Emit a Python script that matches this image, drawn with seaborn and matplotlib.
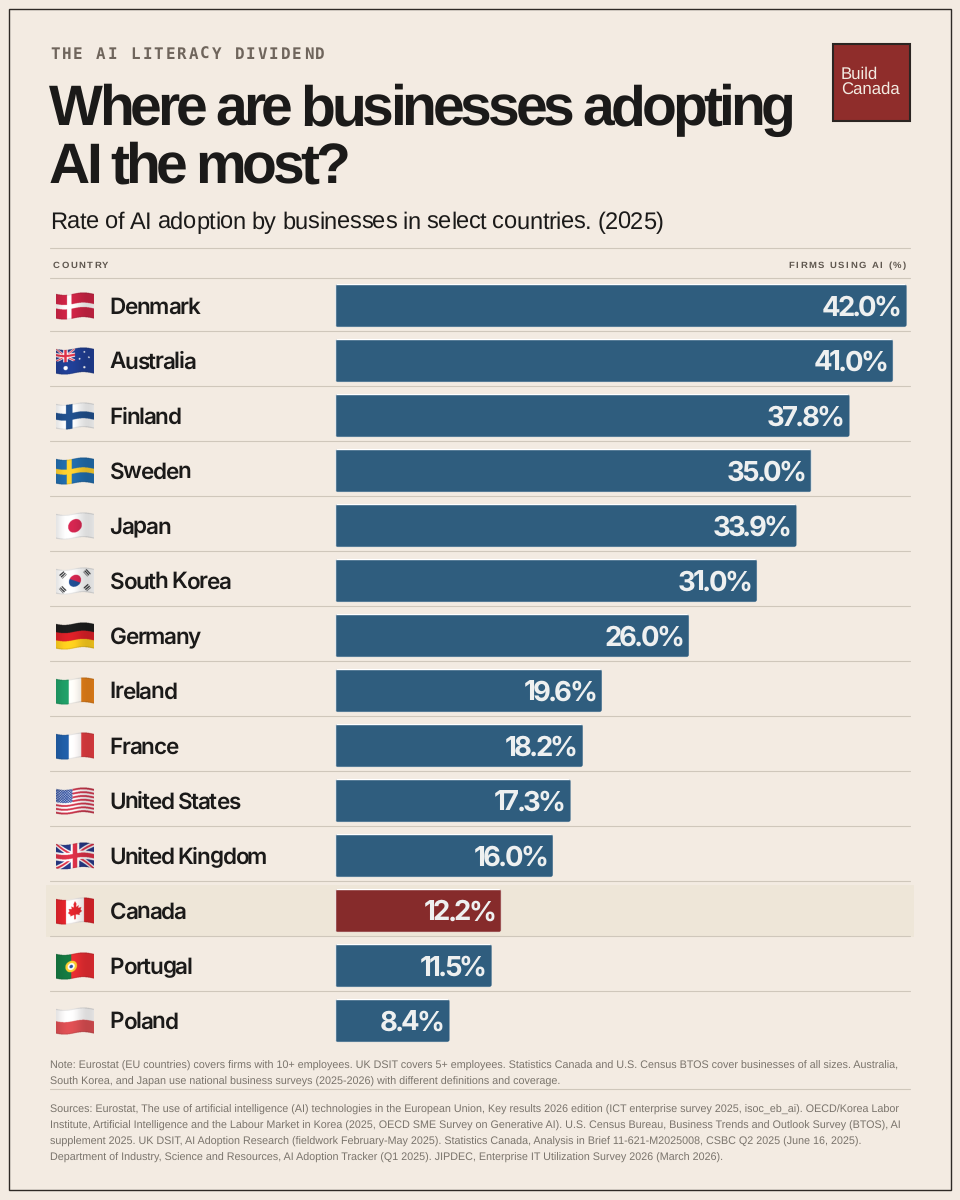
# -*- coding: utf-8 -*-
import matplotlib
matplotlib.use('Agg')
import matplotlib.pyplot as plt
import matplotlib.text as mtext
import matplotlib.transforms as mtransforms
from matplotlib import font_manager
from matplotlib.ft2font import LoadFlags
from matplotlib.patches import FancyBboxPatch, Rectangle
from matplotlib.path import Path
import numpy as np
import pandas as pd
import seaborn as sns

countries = ['Denmark', 'Australia', 'Finland', 'Sweden', 'Japan', 'South Korea', 'Germany',
             'Ireland', 'France', 'United States', 'United Kingdom', 'Canada', 'Portugal', 'Poland']
adoption = [42.0, 41.0, 37.8, 35.0, 33.9, 31.0, 26.0, 19.6, 18.2, 17.3, 16.0, 12.2, 11.5, 8.4]
highlight = 'Canada'

eyebrow = 'THE AI LITERACY DIVIDEND'
title_lines = ['Where are businesses adopting', 'AI the most?']
subtitle = 'Rate of AI adoption by businesses in select countries. (2025)'
note_lines = [
    'Note: Eurostat (EU countries) covers firms with 10+ employees. UK DSIT covers 5+ employees. '
    'Statistics Canada and U.S. Census BTOS cover businesses of all sizes. Australia,',
    'South Korea, and Japan use national business surveys (2025-2026) with different definitions and coverage.',
]
source_lines = [
    'Sources: Eurostat, The use of artificial intelligence (AI) technologies in the European Union, '
    'Key results 2026 edition (ICT enterprise survey 2025, isoc_eb_ai). OECD/Korea Labor',
    'Institute, Artificial Intelligence and the Labour Market in Korea (2025, OECD SME Survey on Generative AI). '
    'U.S. Census Bureau, Business Trends and Outlook Survey (BTOS), AI',
    'supplement 2025. UK DSIT, AI Adoption Research (fieldwork February-May 2025). '
    'Statistics Canada, Analysis in Brief 11-621-M2025008, CSBC Q2 2025 (June 16, 2025).',
    'Department of Industry, Science and Resources, AI Adoption Tracker (Q1 2025). '
    'JIPDEC, Enterprise IT Utilization Survey 2026 (March 2026).',
]

BG = '#F3EBE2'
INK = '#1B1A19'
BLUE = '#2F5D7E'
RED = '#862B2B'
RULE = '#CFC7BB'
NOTE = '#7A746C'
HEADER = '#5F574F'

sns.set_theme(style='white')
plt.rcParams['font.family'] = ['Liberation Sans', 'DejaVu Sans']
plt.rcParams['text.hinting'] = 'no_hinting'


def pts(px):
    return px * 0.72


class TrackedText(mtext.Text):
    """Text whose letters sit closer together or further apart (tracking in pixels)."""

    def __init__(self, *args, tracking=0.0, **kwargs):
        super().__init__(*args, **kwargs)
        self.tracking = tracking

    def _chars(self):
        prop = self.get_fontproperties()
        font = font_manager.get_font(font_manager.findfont(prop), hinting_factor=1)
        font.set_size(prop.get_size_in_points(), self.get_figure().dpi)
        x, out = 0.0, []
        for ch in self.get_text():
            glyph = font.load_char(ord(ch), flags=LoadFlags.NO_HINTING)
            out.append((ch, x))
            x += glyph.linearHoriAdvance / 65536 + self.tracking
        return out, x - self.tracking

    def _origin(self):
        chars, width = self._chars()
        x, y = self.get_transform().transform(self.get_position())
        if self.get_ha() == 'right':
            x -= width
        return chars, width, x, y

    def get_window_extent(self, renderer=None, dpi=None):
        _, width, x, y = self._origin()
        size = self.get_fontproperties().get_size_in_points() / 0.72
        return mtransforms.Bbox.from_extents(x, y - 0.2 * size, x + width, y + 0.75 * size)

    def draw(self, renderer):
        if not self.get_visible():
            return
        chars, _, x, y = self._origin()
        gc = renderer.new_gc()
        gc.set_foreground(self.get_color())
        gc.set_antialiased(True)
        for ch, dx in chars:
            if ch != ' ':
                renderer.draw_text(gc, x + dx, renderer.height - y, ch, self.get_fontproperties(), 0, ismath=False)
        gc.restore()


def make_flag(name, w=152, h=104):
    """Little waving flag as an RGBA array, painted with masks."""
    vv, uu = np.mgrid[0:h, 0:w]
    u = (uu + 0.5) / w
    v_out = (vv + 0.5) / h
    wave = 0.05 * np.cos(2 * np.pi * (u - 0.72))
    v = (v_out - 0.5) / 0.88 + 0.5 + wave
    x = u * 1.5
    img = np.ones((h, w, 3))

    def paint(mask, col):
        img[mask] = matplotlib.colors.to_rgb(col)

    def disc(cx, cy, r):
        return (x - cx) ** 2 + (v - cy) ** 2 < r ** 2

    def union_jack(scale_x, scale_y):
        a, b = x / scale_x, v / scale_y
        inside = (a < 1.5) & (b < 1)
        paint(inside, '#24357F')
        d1 = np.abs(a / 1.5 - b)
        d2 = np.abs(a / 1.5 + b - 1)
        paint(inside & ((d1 < 0.11) | (d2 < 0.11)), '#F2F2F2')
        paint(inside & ((d1 < 0.045) | (d2 < 0.045)), '#D22F45')
        paint(inside & ((np.abs(a - 0.75) < 0.17) | (np.abs(b - 0.5) < 0.17)), '#F2F2F2')
        paint(inside & ((np.abs(a - 0.75) < 0.09) | (np.abs(b - 0.5) < 0.09)), '#D22F45')

    if name == 'Denmark':
        paint(v > -1, '#C42342')
        paint((np.abs(x - 0.52) < 0.09) | (np.abs(v - 0.5) < 0.09), '#F1EDEC')
    elif name == 'Australia':
        paint(v > -1, '#1F3C8E')
        union_jack(0.5, 0.5)
        paint(disc(0.38, 0.74, 0.085), '#F5F5F5')
        for cx, cy, r in [(1.12, 0.18, 0.035), (1.12, 0.8, 0.045), (0.93, 0.45, 0.035), (1.3, 0.38, 0.035)]:
            paint(disc(cx, cy, r), '#F5F5F5')
    elif name == 'Finland':
        paint(v > -1, '#EFEFEF')
        paint((np.abs(x - 0.52) < 0.13) | (np.abs(v - 0.5) < 0.14), '#1F4C86')
    elif name == 'Sweden':
        paint(v > -1, '#1F68A6')
        paint((np.abs(x - 0.52) < 0.1) | (np.abs(v - 0.5) < 0.1), '#F0C52C')
    elif name == 'Japan':
        paint(v > -1, '#EFEFEF')
        paint(disc(0.75, 0.5, 0.27), '#C9244C')
    elif name == 'South Korea':
        paint(v > -1, '#EFEFEF')
        paint(disc(0.75, 0.5, 0.24), '#C9244C')
        paint(disc(0.75, 0.5, 0.24) & (v - 0.5 > 0.55 * (x - 0.75)), '#1F4A8C')
        for cx, cy, s in [(0.27, 0.2, 1), (1.23, 0.8, 1), (1.23, 0.2, -1), (0.27, 0.8, -1)]:
            p = (x - cx) * s + (v - cy)
            q = (x - cx) - s * (v - cy)
            paint((np.abs(p) < 0.14) & (np.abs(q) < 0.17) & (np.sin(p * 55) > -0.25), '#26282B')
    elif name == 'Germany':
        paint(v > -1, '#1C1C1C')
        paint(v > 1 / 3, '#D11F26')
        paint(v > 2 / 3, '#F2C51D')
    elif name == 'Ireland':
        paint(x >= 0, '#1E9762')
        paint(u > 1 / 3, '#F2EFEA')
        paint(u > 2 / 3, '#DF7D18')
    elif name == 'France':
        paint(x >= 0, '#1F5AA0')
        paint(u > 1 / 3, '#F2EFEF')
        paint(u > 2 / 3, '#DB3B3F')
    elif name == 'United States':
        stripe = np.floor(np.clip(v, 0, 0.999) * 13).astype(int) % 2 == 0
        paint(v > -1, '#F3EFEF')
        paint(stripe, '#C8344A')
        canton = (x < 0.65) & (v < 7 / 13)
        paint(canton, '#2F4C96')
        paint(canton & (np.sin(x * 62) * np.sin(v * 62) > 0.35), '#E6E8F2')
    elif name == 'United Kingdom':
        union_jack(1, 1)
    elif name == 'Canada':
        paint(x >= 0, '#F3EFEE')
        paint((u < 0.26) | (u > 0.74), '#D8232A')
        leaf_x = [0, .05, .04, .13, .11, .22, .19, .24, .15, .17, .03, .03, -.03, -.03, -.17, -.15, -.24, -.19,
                  -.22, -.11, -.13, -.04, -.05]
        leaf_y = [-.34, -.24, -.12, -.18, -.08, -.1, -.01, .04, .12, .17, .14, .3, .3, .14, .17, .12, .04, -.01,
                  -.1, -.08, -.18, -.12, -.24]
        leaf = Path(np.column_stack([np.array(leaf_x) * 1.15 + 0.75, np.array(leaf_y) * 1.15 + 0.5]))
        inside = leaf.contains_points(np.column_stack([x.ravel(), v.ravel()])).reshape(x.shape)
        paint(inside, '#D8232A')
    elif name == 'Portugal':
        paint(x >= 0, '#DE2B30')
        paint(u < 0.4, '#14733E')
        paint(disc(0.6, 0.5, 0.23), '#EFC22E')
        paint(disc(0.6, 0.5, 0.14), '#F2F0EC')
        paint(disc(0.6, 0.5, 0.07), '#2A4C9A')
    elif name == 'Poland':
        paint(v > -1, '#EFEEEE')
        paint(v > 0.5, '#D24B4F')

    shade = 1 + 0.08 * np.sin(2 * np.pi * (u - 0.1)) - 0.12 * (np.abs(v - 0.5) > 0.46)
    rgba = np.dstack([np.clip(img * shade[..., None], 0, 1), ((v >= 0) & (v <= 1)).astype(float)])
    return rgba


data = pd.DataFrame({'country': countries, 'adoption': adoption})
bar_colors = {c: (RED if c == highlight else BLUE) for c in countries}

fig = plt.figure(figsize=(9.6, 12), dpi=100, facecolor=BG)

# page layer in pixel coordinates for rules, frame and header
page = fig.add_axes([0, 0, 1, 1], zorder=0)
page.set_axis_off()

# bar layer: x 336..907 px, row centres 306..1021 px
ax = fig.add_axes([335.3 / 960, 1 - 1048 / 1200, 571.4 / 960, 770 / 1200], zorder=2)
sns.barplot(data=data, y='country', x='adoption', hue='country', palette=bar_colors, legend=False,
            orient='h', width=0.785, saturation=1, ax=ax)
ax.set_xlim(0, 42)
ax.set_ylim(13.5, -0.5)
ax.set_axis_off()
ax.patch.set_alpha(0)

# rounded corners on the bars
for bar in ax.patches:
    round_box = FancyBboxPatch((bar.get_x(), bar.get_y()), bar.get_width(), bar.get_height(),
                               boxstyle='round,pad=0,rounding_size=0.2', mutation_aspect=13.6 / 55,
                               transform=ax.transData)
    bar.set_clip_path(round_box)

page.add_patch(Rectangle((9.3, 9.3), 941.4, 1180.4, facecolor='none', edgecolor='#2E2A26', lw=1.0))

# header
page.add_artist(TrackedText(50, 59, eyebrow, tracking=1.9, color='#6F655C', family='DejaVu Sans Mono',
                            weight='bold', fontsize=pts(15.9), transform=page.transData))
for line, base in zip(title_lines, [125, 183]):
    page.add_artist(TrackedText(49, base, line, tracking=-4.0, color=INK, family='Liberation Sans',
                                weight='bold', fontsize=pts(57), transform=page.transData))
page.add_artist(TrackedText(50, 229, subtitle, tracking=-0.53, color=INK, family='Liberation Sans',
                            fontsize=pts(23.6), transform=page.transData))

# logo
page.add_patch(Rectangle((833, 44), 76.5, 76.5, facecolor='#8F2D2B', edgecolor='#2B2522', lw=1.5))
page.text(841, 82, 'Build\nCanada', color='#F3EBE2', family='Liberation Sans', fontsize=pts(16.7),
          va='center', ha='left', linespacing=0.93)

# table head and rules
for y_rule in [248, 278]:
    page.plot([50, 910], [y_rule, y_rule], color=RULE, lw=0.8)
page.add_artist(TrackedText(53, 268, 'COUNTRY', tracking=1.8, color=HEADER, family='Liberation Sans',
                            weight='bold', fontsize=pts(9.5), transform=page.transData))
page.add_artist(TrackedText(906, 268, 'FIRMS USING AI (%)', tracking=1.8, color=HEADER, ha='right',
                            family='Liberation Sans', weight='bold', fontsize=pts(9.5), transform=page.transData))

row_y = mtransforms.blended_transform_factory(page.transData, ax.transData)
for i, (name, value) in enumerate(zip(countries, adoption)):
    if name == highlight:
        page.add_patch(Rectangle((46, 306 + 55 * i - 26), 868, 51.5, facecolor='#EEE6D8', edgecolor='none'))
    if i < len(countries) - 1:
        page.plot([50, 910], [331 + 55 * i] * 2, color=RULE, lw=0.8)
    page.imshow(make_flag(name), extent=(56, 94, 306 + 55 * i + 14, 306 + 55 * i - 14), aspect='auto', zorder=3,
                interpolation='antialiased')
    name_tf = mtransforms.offset_copy(row_y, fig=fig, y=-pts(8), units='points')
    page.add_artist(TrackedText(109.5, i, name, tracking=-1.3, color=INK, family='Inter', weight=600,
                                fontsize=pts(22.5), transform=name_tf))
    value_tf = mtransforms.offset_copy(ax.transData, fig=fig, x=-pts(5), y=-pts(10), units='points')
    ax.add_artist(TrackedText(value, i, f'{value:.1f}%', tracking=-2.8, color='#EEF0F0', ha='right',
                              family='Inter', weight=700, fontsize=pts(27.5), transform=value_tf))

# footnotes
for line, base in zip(note_lines, [1069, 1085]):
    page.text(50, base, line, color=NOTE, fontsize=pts(10.8), family='Liberation Sans', va='baseline')
page.plot([50, 910], [1089, 1089], color=RULE, lw=0.8)
for line, base in zip(source_lines, [1112.5, 1128.5, 1144.5, 1160.5]):
    page.text(50, base, line, color=NOTE, fontsize=pts(10.8), family='Liberation Sans', va='baseline')

page.set_xlim(0, 960)
page.set_ylim(1200, 0)

fig.savefig('out.png', dpi=100, facecolor=BG)
